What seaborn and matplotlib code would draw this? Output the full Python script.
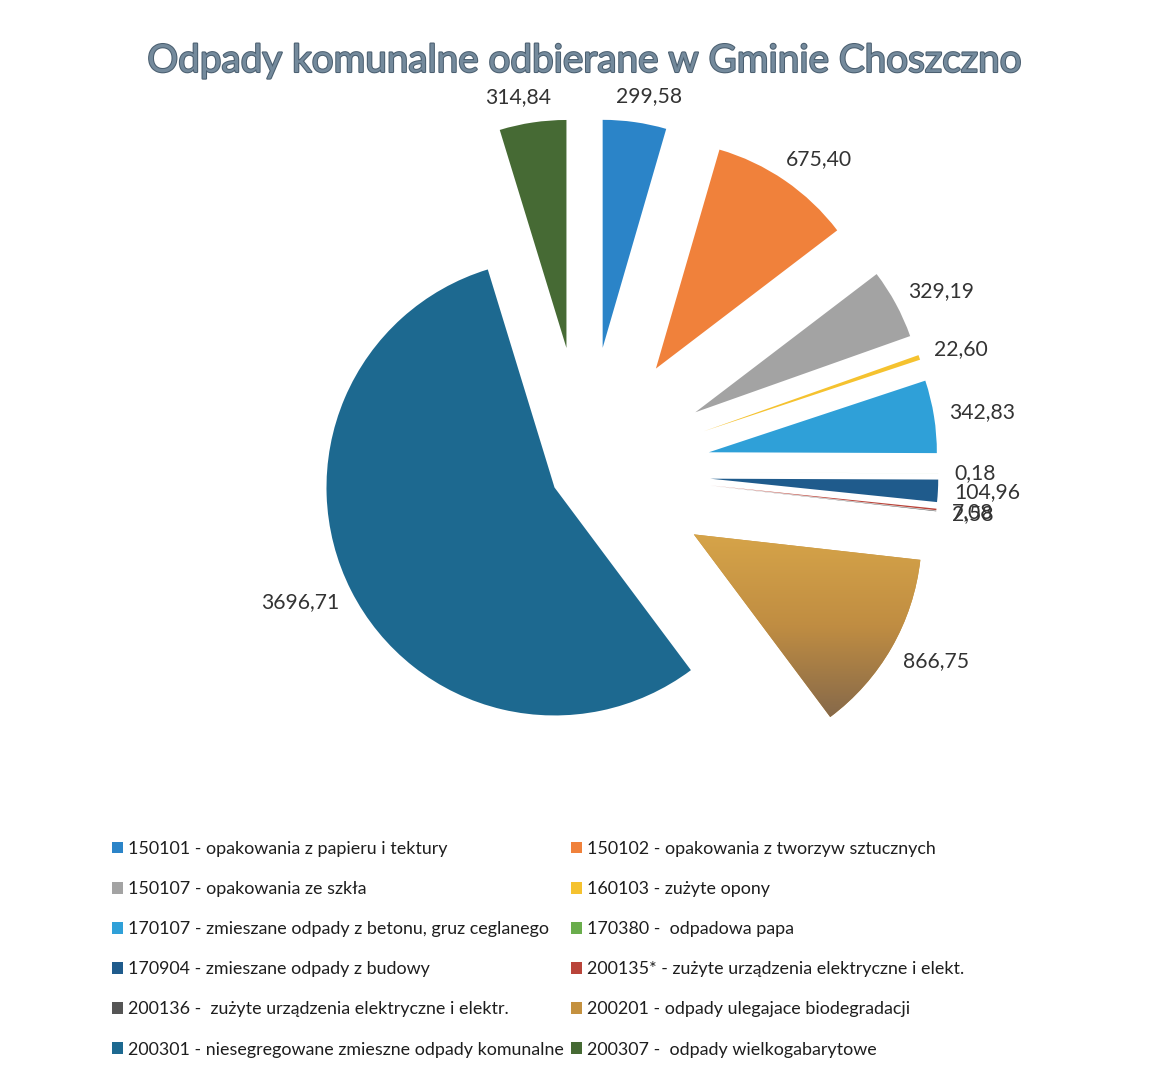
import numpy as np
import matplotlib
matplotlib.use("Agg")
import matplotlib.pyplot as plt
import matplotlib.patheffects as pe
from matplotlib.colors import LinearSegmentedColormap
import seaborn as sns

# ---------------- data ----------------
title = "Odpady komunalne odbierane w Gminie Choszczno"
categories = [
    "150101 - opakowania z papieru i tektury",
    "150102 - opakowania z tworzyw sztucznych",
    "150107 - opakowania ze szkła",
    "160103 - zużyte opony",
    "170107 - zmieszane odpady z betonu, gruz ceglanego",
    "170380 -  odpadowa papa",
    "170904 - zmieszane odpady z budowy",
    "200135* - zużyte urządzenia elektryczne i elekt.",
    "200136 -  zużyte urządzenia elektryczne i elektr.",
    "200201 - odpady ulegajace biodegradacji",
    "200301 - niesegregowane zmieszne odpady komunalne",
    "200307 -  odpady wielkogabarytowe",
]
values = [299.58, 675.40, 329.19, 22.60, 342.83, 0.18, 104.96, 7.08, 2.58,
          866.75, 3696.71, 314.84]
colors = ["#2b84c8", "#f0813b", "#a3a3a3", "#f5c22f", "#2fa0d8", "#6aad4c",
          "#1f5b8c", "#b9443a", "#555555", "#c4913f", "#1d6990", "#466a34"]

# ---------------- style / layout ----------------
sns.set_theme(style="white")
plt.rcParams["font.family"] = ["Lato", "DejaVu Sans"]

W, H = 1176, 1084
R_PX = 228.0          # pie radius in pixels
CX, CY = 585.0, 472.0 # pie centre (pixels from top-left)
XL, YL = (-2.5, 2.5), (-1.6, 2.0)

fig = plt.figure(figsize=(W / 100, H / 100), dpi=100)
fig.patch.set_facecolor("white")
ax = fig.add_axes([
    (CX + XL[0] * R_PX) / W,
    (H - CY + YL[0] * R_PX) / H,
    (XL[1] - XL[0]) * R_PX / W,
    (YL[1] - YL[0]) * R_PX / H,
])

vmax = max(values)
explode = [0.15 if v == vmax else 0.55 for v in values]
wedges, _ = ax.pie(values, colors=colors, startangle=90, counterclock=False,
                   explode=explode, radius=1.0,
                   wedgeprops=dict(linewidth=0))
ax.set_xlim(*XL)
ax.set_ylim(*YL)
ax.set_aspect("auto")
ax.axis("off")

# vertical gradient on the biodegradable (brown) wedge, as in the original
bw = wedges[9]
bb_data = bw.get_path().get_extents(bw.get_patch_transform())
grad_cmap = LinearSegmentedColormap.from_list("brown", ["#86694a", "#c08d42", "#d6a449"])
img = ax.imshow(np.linspace(0, 1, 256).reshape(-1, 1), cmap=grad_cmap,
                origin="lower", aspect="auto",
                extent=(bb_data.x0, bb_data.x1, bb_data.y0, bb_data.y1),
                zorder=bw.get_zorder() + 0.1)
img.set_clip_path(bw)
ax.set_xlim(*XL)
ax.set_ylim(*YL)

renderer = fig.canvas.get_renderer()

def fit_size(text, target_px, **kw):
    t = fig.text(0, 0, text, fontsize=10, **kw)
    w = t.get_window_extent(renderer).width
    t.remove()
    return 10 * target_px / w

# value labels (outside end)
lab_fs = fit_size("675,40", 66)
gap = 0.07
for w, v in zip(wedges, values):
    th = np.deg2rad((w.theta1 + w.theta2) / 2)
    ux, uy = np.cos(th), np.sin(th)
    cx, cy = w.center
    px, py = cx + w.r * (1 + gap) * ux, cy + w.r * (1 + gap) * uy
    s = f"{v:.2f}".replace(".", ",")
    t = ax.text(px, py, s, ha="center", va="center", fontsize=lab_fs,
                color="#333333")
    bb = t.get_window_extent(renderer)
    ox = np.sign(ux) * np.sqrt(abs(ux)) * bb.width / 2
    oy = uy * bb.height / 2
    t.set_position((px + ox / R_PX, py + oy / R_PX))

# title
tfs = fit_size(title, 876)
fig.text(CX / W, 1 - 61 / H, title, ha="center", va="center", fontsize=tfs,
         color="#748a9c",
         path_effects=[pe.withStroke(linewidth=1.5, foreground="#4b5f70")])

# legend (row-wise order in two columns)
order = list(range(0, 12, 2)) + list(range(1, 12, 2))
leg_fs = fit_size(categories[10], 436)
leg_px = leg_fs * 100 / 72
fig.legend([wedges[i] for i in order], [categories[i] for i in order],
           ncol=2, loc="upper left",
           bbox_to_anchor=(112 / W, 1 - 841 / H),
           frameon=False, fontsize=leg_fs,
           handlelength=0.62, handleheight=0.62, handletextpad=0.3,
           columnspacing=0.35, labelspacing=(45 - leg_px * 1.17) / leg_px,
           borderpad=0, borderaxespad=0, labelcolor="#1e1e1e")

fig.savefig("out.png", dpi=100, facecolor="white")
